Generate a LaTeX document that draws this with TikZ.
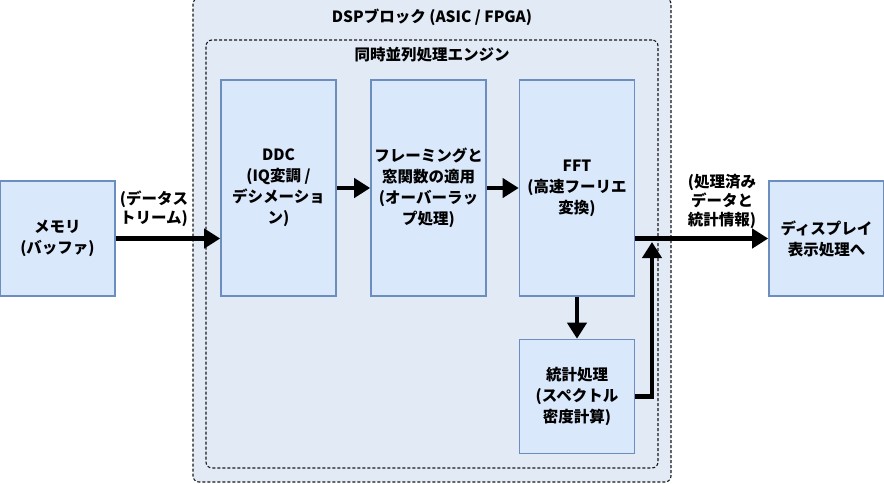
\documentclass[tikz,border=0pt]{standalone}
\usepackage{fontspec}
\setmainfont{Noto Sans CJK JP}
\usetikzlibrary{arrows.meta,positioning}
\definecolor{boxfill}{HTML}{DAE8FC}
\definecolor{boxline}{HTML}{6C8EBF}
\definecolor{grpfill}{HTML}{E2EAF6}
\begin{document}
\begin{tikzpicture}[x=1pt, y=-1pt,
    blk/.style={draw=boxline, fill=boxfill, line width=1.6pt, align=center, inner sep=0pt,
                font=\bfseries\fontsize{15.5}{21}\selectfont},
    grp/.style={draw=black!90, fill=grpfill, dash pattern=on 3pt off 2pt, rounded corners=6pt,
                line width=1.1pt, inner sep=0pt},
    ttl/.style={font=\bfseries\fontsize{15.5}{18}\selectfont},
    lbl/.style={align=center, inner sep=0pt, font=\bfseries\fontsize{15.5}{19}\selectfont},
    flow/.style={line width=4.5pt, -{Triangle[length=16pt,width=19pt]}}
]
\useasboundingbox (0,0) rectangle (884,483);

%% groups
\node[grp, minimum width=478, minimum height=484] (dsp) at (432,240) {};
\node[ttl] (dsptitle) at (432,17) {DSPブロック (ASIC / FPGA)};
\node[grp, minimum width=452, minimum height=428] (eng) at (432,254) {};
\node[ttl] (engtitle) at (432,55) {同時並列処理エンジン};

%% blocks
\node[blk, minimum width=115, minimum height=115] (mem)  at (57.5,238.5) {メモリ\\(バッファ)};
\node[blk, minimum width=115, minimum height=216] (ddc)  at (278.5,188)  {DDC\\(IQ変調 /\\デシメーショ\\ン)};
\node[blk, minimum width=115, minimum height=216] (frm)  at (428.5,188)  {フレーミングと\\窓関数の適用\\(オーバーラッ\\プ処理)};
\node[blk, minimum width=115, minimum height=216] (fft)  at (577,188)    {FFT\\(高速フーリエ\\変換)};
\node[blk, minimum width=115, minimum height=114] (stat) at (577,396.5)  {統計処理\\(スペクトル\\密度計算)};
\node[blk, minimum width=115, minimum height=115] (disp) at (826.5,238.5) {ディスプレイ\\表示処理へ};

%% labels
\node[lbl] (inlbl)  at (154,209) {(データス\\トリーム)};
\node[lbl] (outlbl) at (722,201) {(処理済み\\データと\\統計情報)};

%% connectors
\coordinate (join) at (652,242);
\draw[flow] (mem.east) -- (ddc.west |- mem.east);
\draw[flow] (ddc.east) -- (frm.west);
\draw[flow] (frm.east) -- (fft.west);
\draw[flow] (fft.east |- disp.west) -- (disp.west);
\draw[flow] (fft.south) -- (stat.north);
\draw[flow] (stat.east) -| (join);
\end{tikzpicture}
\end{document}
